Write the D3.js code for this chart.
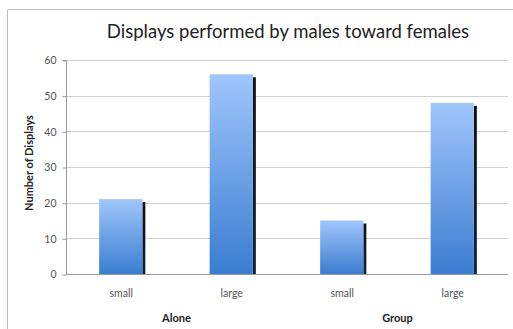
<!DOCTYPE html>
<html><head><meta charset="utf-8">
<script src="https://cdn.jsdelivr.net/npm/d3@7"></script>
<style>
body{margin:0;background:#fff;}
svg{display:block;font-family:Lato,"Open Sans",sans-serif;}
</style></head>
<body><svg id="c" width="513" height="329"></svg>
<script>
const title = "Displays performed by males toward females";
const yLabel = "Number of Displays";
const groups = ["Alone", "Group"];
const sizes = ["small", "large"];
const categories = ["Alone-small", "Alone-large", "Group-small", "Group-large"];
const values = [21, 56, 15, 48];
const yTicks = [0, 10, 20, 30, 40, 50, 60];

const svg = d3.select("#c");
const m = {left: 66, right: 508, top: 60, bottom: 274};

// chart border (left + top)
svg.append("path").attr("d", "M7.5,329 V9.5 H513").attr("fill", "none").attr("stroke", "#bfbfbf").attr("stroke-width", 1);

const x = d3.scaleBand().domain(categories).range([m.left, m.right]).paddingInner(0.6).paddingOuter(0.3);
const y = d3.scaleLinear().domain([0, 60]).range([m.bottom, m.top]);

const defs = svg.append("defs");
const g1 = defs.append("linearGradient").attr("id", "bg").attr("x1", 0).attr("y1", 0).attr("x2", 0).attr("y2", 1);
g1.append("stop").attr("offset", 0).attr("stop-color", "#a0c6fc");
g1.append("stop").attr("offset", 1).attr("stop-color", "#3a7dd0");
const g2 = defs.append("linearGradient").attr("id", "sg").attr("x1", 0).attr("y1", 0).attr("x2", 0).attr("y2", 1);
g2.append("stop").attr("offset", 0).attr("stop-color", "#111");
g2.append("stop").attr("offset", 1).attr("stop-color", "#10223a");

// gridlines
svg.append("g").selectAll("line").data(yTicks.slice(1)).join("line")
  .attr("x1", m.left).attr("x2", m.right)
  .attr("y1", d => Math.round(y(d)) + 0.5).attr("y2", d => Math.round(y(d)) + 0.5)
  .attr("stroke", "#cfcfcf").attr("stroke-width", 1);

// y axis
const yAxis = svg.append("g").attr("transform", `translate(${m.left + 0.5},0.5)`)
  .call(d3.axisLeft(y).tickValues(yTicks).tickSize(4).tickPadding(6));
yAxis.select(".domain").attr("stroke", "#999").attr("d", `M-4,${Math.round(y(60))}H0V${Math.round(y(0))}`);
yAxis.selectAll(".tick line").attr("stroke", "#999");
yAxis.selectAll(".tick text").attr("fill", "#555").attr("font-size", 10.5).attr("font-family", "Lato,sans-serif");

// shadows
svg.append("g").selectAll("rect").data(values).join("rect")
  .attr("x", (d, i) => x(categories[i]) + x.bandwidth() - 1)
  .attr("y", d => y(d) + 3)
  .attr("width", 3)
  .attr("height", d => m.bottom - y(d) - 3)
  .attr("fill", "url(#sg)");

// bars
svg.append("g").selectAll("rect").data(values).join("rect")
  .attr("x", (d, i) => x(categories[i]))
  .attr("y", d => y(d))
  .attr("width", x.bandwidth() - 1)
  .attr("height", d => m.bottom - y(d))
  .attr("fill", "url(#bg)");

// x axis baseline
svg.append("line").attr("x1", m.left).attr("x2", m.right)
  .attr("y1", m.bottom + 0.5).attr("y2", m.bottom + 0.5).attr("stroke", "#999");

// category labels
svg.append("g").selectAll("text").data(categories).join("text")
  .attr("x", d => x(d) + x.bandwidth() / 2)
  .attr("y", 297)
  .attr("text-anchor", "middle").attr("font-size", 10.5).attr("fill", "#555")
  .text((d, i) => sizes[i % 2]);

// group labels
svg.append("g").selectAll("text").data(groups).join("text")
  .attr("x", (d, i) => (x(categories[i * 2]) + x(categories[i * 2 + 1]) + x.bandwidth()) / 2)
  .attr("y", 322)
  .attr("text-anchor", "middle").attr("font-size", 11).attr("font-weight", "bold").attr("fill", "#222")
  .text(d => d);

// y label
svg.append("text").attr("transform", "translate(33,163) rotate(-90)")
  .attr("text-anchor", "middle").attr("font-size", 11).attr("font-weight", "bold").attr("fill", "#222")
  .text(yLabel);

// title
svg.append("text").attr("x", 288).attr("y", 38).attr("text-anchor", "middle")
  .attr("font-size", 18.5).attr("fill", "#222").text(title);
</script></body></html>
